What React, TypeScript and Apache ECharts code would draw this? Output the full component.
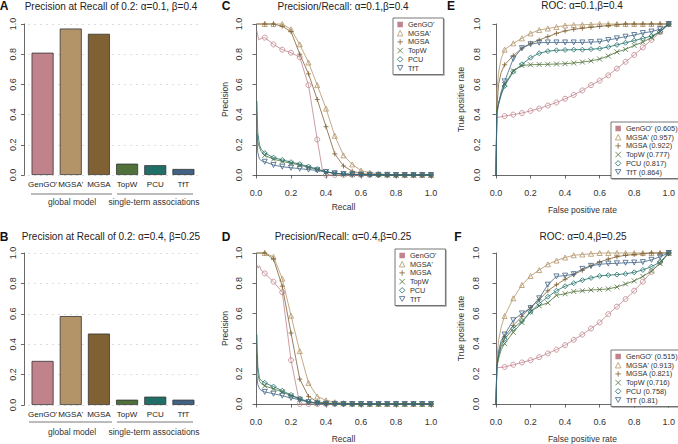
import React, { useEffect, useRef } from "react";
import * as echarts from "echarts";

const FONT = '"Liberation Sans", Arial, Helvetica, sans-serif';

const METHODS = ["GenGO'", "MGSA'", "MGSA", "TopW", "PCU", "TfT"];
const COLORS = ["#c0838c", "#b39468", "#7f6133", "#50713a", "#1f6f68", "#406385"];
const AUC_E = ["0.605", "0.957", "0.922", "0.777", "0.817", "0.864"];
const AUC_F = ["0.515", "0.913", "0.821", "0.716", "0.758", "0.81"];

const BAR_A = [0.81, 0.97, 0.935, 0.075, 0.065, 0.04];
const BAR_B = [0.29, 0.585, 0.47, 0.035, 0.055, 0.035];

const TITLE_A = "Precision at Recall of 0.2: \u03b1=0.1, \u03b2=0.4";
const TITLE_B = "Precision at Recall of 0.2: \u03b1=0.4, \u03b2=0.25";
const TITLE_C = "Precision/Recall: \u03b1=0.1,\u03b2=0.4";
const TITLE_D = "Precision/Recall: \u03b1=0.4,\u03b2=0.25";
const TITLE_E = "ROC: \u03b1=0.1,\u03b2=0.4";
const TITLE_F = "ROC: \u03b1=0.4,\u03b2=0.25";

// x positions where markers are drawn (recall / false positive rate)
const MARK_X = [0.05, 0.1, 0.15, 0.2, 0.25, 0.3, 0.35, 0.4, 0.45, 0.5, 0.55, 0.6, 0.65, 0.7, 0.75, 0.8, 0.85, 0.9, 0.95, 1.0];

// ---- Panel C: precision/recall, alpha=0.1 beta=0.4
const C_GENGO_EXTRA = [[0.005, 0.955], [0.015, 0.895], [0.03, 0.905], [0.38, 0.03]];
const C_GENGO = [0.91, 0.865, 0.83, 0.81, 0.78, 0.595, 0.235, 0.0, 0.0, 0, 0, 0, 0, 0, 0, 0, 0, 0, 0, 0];
const C_MGSAP_EXTRA = [[0.005, 1.0]];
const C_MGSAP = [1.0, 1.0, 1.0, 0.965, 0.865, 0.745, 0.595, 0.44, 0.26, 0.13, 0.07, 0.03, 0.015, 0.008, 0.004, 0.002, 0.001, 0, 0, 0];
const C_MGSA_EXTRA = [[0.005, 1.0]];
const C_MGSA = [1.0, 1.0, 0.985, 0.95, 0.8, 0.67, 0.5, 0.32, 0.14, 0.06, 0.025, 0.01, 0.005, 0.003, 0.002, 0.001, 0, 0, 0, 0];
const C_TOPW_EXTRA = [[0.005, 0.29], [0.01, 0.22], [0.02, 0.18], [0.03, 0.155]];
const C_TOPW = [0.13, 0.105, 0.09, 0.078, 0.066, 0.05, 0.036, 0.02, 0.01, 0.006, 0.004, 0.003, 0.002, 0.001, 0.001, 0, 0, 0, 0, 0];
const C_PCU_EXTRA = [[0.005, 0.49], [0.01, 0.28], [0.02, 0.2], [0.03, 0.17]];
const C_PCU = [0.145, 0.115, 0.1, 0.085, 0.072, 0.056, 0.04, 0.022, 0.012, 0.007, 0.005, 0.003, 0.002, 0.001, 0.001, 0, 0, 0, 0, 0];
const C_TFT_EXTRA = [[0.005, 0.27], [0.01, 0.15], [0.02, 0.105], [0.03, 0.095]];
const C_TFT = [0.088, 0.066, 0.055, 0.048, 0.042, 0.036, 0.03, 0.02, 0.012, 0.007, 0.004, 0.003, 0.002, 0.001, 0.001, 0, 0, 0, 0, 0];

// ---- Panel D: precision/recall, alpha=0.4 beta=0.25
const D_GENGO_EXTRA = [[0.005, 0.92], [0.012, 0.9], [0.02, 0.915], [0.03, 0.885]];
const D_GENGO = [0.865, 0.81, 0.74, 0.29, 0.0, 0, 0, 0, 0, 0, 0, 0, 0, 0, 0, 0, 0, 0, 0, 0];
const D_MGSAP_EXTRA = [[0.005, 1.0]];
const D_MGSAP = [1.0, 0.975, 0.83, 0.585, 0.35, 0.14, 0.05, 0.025, 0.012, 0.006, 0.003, 0.002, 0.001, 0, 0, 0, 0, 0, 0, 0];
const D_MGSA_EXTRA = [[0.005, 1.0]];
const D_MGSA = [1.0, 0.96, 0.78, 0.47, 0.165, 0.05, 0.015, 0.007, 0.004, 0.002, 0.001, 0, 0, 0, 0, 0, 0, 0, 0, 0];
const D_TOPW_EXTRA = [[0.005, 0.33], [0.01, 0.2], [0.02, 0.15], [0.03, 0.135]];
const D_TOPW = [0.12, 0.1, 0.08, 0.055, 0.032, 0.014, 0.006, 0.003, 0.002, 0.001, 0, 0, 0, 0, 0, 0, 0, 0, 0, 0];
const D_PCU_EXTRA = [[0.005, 0.46], [0.01, 0.25], [0.02, 0.17], [0.03, 0.155]];
const D_PCU = [0.14, 0.115, 0.088, 0.06, 0.035, 0.015, 0.007, 0.004, 0.002, 0.001, 0, 0, 0, 0, 0, 0, 0, 0, 0, 0];
const D_TFT_EXTRA = [[0.005, 0.19], [0.01, 0.13], [0.02, 0.1], [0.03, 0.09]];
const D_TFT = [0.08, 0.068, 0.055, 0.04, 0.028, 0.012, 0.005, 0.002, 0.001, 0, 0, 0, 0, 0, 0, 0, 0, 0, 0, 0];

// ---- Panel E: ROC, alpha=0.1 beta=0.4
const E_GENGO_EXTRA = [[0, 0], [0.004, 0.38]];
const E_GENGO = [0.39, 0.4, 0.41, 0.425, 0.44, 0.46, 0.48, 0.505, 0.53, 0.56, 0.595, 0.625, 0.66, 0.705, 0.75, 0.795, 0.845, 0.895, 0.945, 1.0];
const E_MGSAP_EXTRA = [[0, 0], [0.005, 0.55], [0.015, 0.68], [0.03, 0.77]];
const E_MGSAP = [0.83, 0.872, 0.905, 0.938, 0.96, 0.97, 0.98, 0.99, 0.993, 0.995, 0.997, 1, 1, 1, 1, 1, 1, 1, 1, 1];
const E_MGSA_EXTRA = [[0, 0], [0.005, 0.45], [0.015, 0.6], [0.03, 0.68]];
const E_MGSA = [0.73, 0.79, 0.84, 0.872, 0.894, 0.916, 0.938, 0.954, 0.965, 0.972, 0.978, 0.984, 0.99, 0.995, 1, 1, 1, 1, 1, 1];
const E_TOPW_EXTRA = [[0, 0], [0.005, 0.43], [0.015, 0.48], [0.03, 0.54]];
const E_TOPW = [0.6, 0.69, 0.725, 0.73, 0.732, 0.733, 0.735, 0.737, 0.742, 0.748, 0.756, 0.768, 0.788, 0.815, 0.832, 0.858, 0.88, 0.91, 0.95, 1.0];
const E_PCU_EXTRA = [[0, 0], [0.005, 0.42], [0.015, 0.47], [0.03, 0.53]];
const E_PCU = [0.59, 0.684, 0.733, 0.777, 0.806, 0.82, 0.826, 0.828, 0.83, 0.83, 0.833, 0.837, 0.848, 0.862, 0.876, 0.89, 0.905, 0.92, 0.95, 1.0];
const E_TFT_EXTRA = [[0, 0], [0.005, 0.4], [0.015, 0.47], [0.03, 0.55]];
const E_TFT = [0.62, 0.77, 0.84, 0.866, 0.876, 0.878, 0.878, 0.878, 0.878, 0.878, 0.88, 0.883, 0.894, 0.905, 0.916, 0.927, 0.94, 0.95, 0.965, 1.0];

// ---- Panel F: ROC, alpha=0.4 beta=0.25
const F_GENGO_EXTRA = [[0, 0], [0.004, 0.24]];
const F_GENGO = [0.245, 0.26, 0.275, 0.29, 0.31, 0.335, 0.36, 0.39, 0.425, 0.46, 0.5, 0.54, 0.595, 0.645, 0.695, 0.75, 0.81, 0.875, 0.94, 1.0];
const F_MGSAP_EXTRA = [[0, 0], [0.005, 0.3], [0.015, 0.42], [0.03, 0.51]];
const F_MGSAP = [0.583, 0.7, 0.788, 0.848, 0.887, 0.925, 0.95, 0.97, 0.985, 0.99, 0.995, 1, 1, 1, 1, 1, 1, 1, 1, 1];
const F_MGSA_EXTRA = [[0, 0], [0.005, 0.25], [0.015, 0.33], [0.03, 0.4]];
const F_MGSA = [0.445, 0.52, 0.58, 0.64, 0.69, 0.75, 0.79, 0.826, 0.857, 0.885, 0.915, 0.94, 0.96, 0.975, 0.985, 0.99, 0.995, 1, 1, 1];
const F_TOPW_EXTRA = [[0, 0], [0.005, 0.24], [0.015, 0.3], [0.03, 0.36]];
const F_TOPW = [0.4, 0.475, 0.54, 0.61, 0.65, 0.67, 0.72, 0.73, 0.745, 0.75, 0.755, 0.758, 0.762, 0.775, 0.795, 0.815, 0.845, 0.88, 0.93, 1.0];
const F_PCU_EXTRA = [[0, 0], [0.005, 0.25], [0.015, 0.32], [0.03, 0.38]];
const F_PCU = [0.43, 0.5, 0.55, 0.61, 0.665, 0.71, 0.75, 0.78, 0.8, 0.82, 0.835, 0.848, 0.853, 0.857, 0.862, 0.872, 0.888, 0.91, 0.94, 1.0];
const F_TFT_EXTRA = [[0, 0], [0.005, 0.26], [0.015, 0.35], [0.03, 0.42]];
const F_TFT = [0.46, 0.555, 0.6, 0.635, 0.7, 0.79, 0.845, 0.85, 0.86, 0.895, 0.915, 0.925, 0.93, 0.932, 0.935, 0.937, 0.94, 0.955, 0.975, 1.0];

const PANEL_C = [[C_GENGO_EXTRA, C_GENGO], [C_MGSAP_EXTRA, C_MGSAP], [C_MGSA_EXTRA, C_MGSA], [C_TOPW_EXTRA, C_TOPW], [C_PCU_EXTRA, C_PCU], [C_TFT_EXTRA, C_TFT]];
const PANEL_D = [[D_GENGO_EXTRA, D_GENGO], [D_MGSAP_EXTRA, D_MGSAP], [D_MGSA_EXTRA, D_MGSA], [D_TOPW_EXTRA, D_TOPW], [D_PCU_EXTRA, D_PCU], [D_TFT_EXTRA, D_TFT]];
const PANEL_E = [[E_GENGO_EXTRA, E_GENGO], [E_MGSAP_EXTRA, E_MGSAP], [E_MGSA_EXTRA, E_MGSA], [E_TOPW_EXTRA, E_TOPW], [E_PCU_EXTRA, E_PCU], [E_TFT_EXTRA, E_TFT]];
const PANEL_F = [[F_GENGO_EXTRA, F_GENGO], [F_MGSAP_EXTRA, F_MGSAP], [F_MGSA_EXTRA, F_MGSA], [F_TOPW_EXTRA, F_TOPW], [F_PCU_EXTRA, F_PCU], [F_TFT_EXTRA, F_TFT]];

const PLUS = "path://M5,0L5,10M0,5L10,5";
const CROSS = "path://M0,0L10,10M10,0L0,10";
const DOWNTRI = "path://M0,0L10,0L5,8.66Z";
const SYMBOLS = ["circle", "triangle", PLUS, CROSS, "diamond", DOWNTRI];
const LEGEND_ICONS = ["rect", "triangle", PLUS, CROSS, "diamond", DOWNTRI];

function buildData(extra: number[][], marks: number[]) {
  const pts: any[] = [];
  extra.forEach((p) => pts.push({ value: [p[0], p[1]], symbol: "none" }));
  marks.forEach((y, i) => pts.push({ value: [MARK_X[i], y] }));
  pts.sort((a, b) => a.value[0] - b.value[0]);
  return pts;
}

function lineSeries(panel: any[], axisIndex: number, names: string[]) {
  return panel.map((pair, i) => ({
    type: "line",
    name: names[i],
    xAxisIndex: axisIndex,
    yAxisIndex: axisIndex,
    data: buildData(pair[0], pair[1]),
    symbol: SYMBOLS[i],
    symbolSize: 5,
    showSymbol: true,
    showAllSymbol: true,
    silent: true,
    clip: false,
    lineStyle: { color: COLORS[i], width: 0.8 },
    itemStyle: { color: "rgba(255,255,255,0)", borderColor: COLORS[i], borderWidth: 0.8 },
    emphasis: { disabled: true },
    z: 2 + i,
  }));
}

function valueAxis(gridIndex: number, offset: number, margin: number, isY: boolean, name: string, nameGap: number) {
  return {
    type: "value",
    gridIndex,
    min: 0,
    max: 1,
    interval: 0.2,
    offset,
    name,
    nameLocation: "middle",
    nameGap,
    nameTextStyle: { fontSize: 8.5, color: "#333", fontFamily: FONT },
    axisLine: { show: true, lineStyle: { color: "#444", width: 0.8 } },
    axisTick: { show: true, length: 3.5, lineStyle: { color: "#444", width: 0.8 } },
    axisLabel: {
      fontSize: 9,
      color: "#333",
      fontFamily: FONT,
      margin,
      rotate: isY ? 90 : 0,
      formatter: (v: number) => v.toFixed(1),
    },
    splitLine: { show: false },
  };
}

function barYAxis(gridIndex: number) {
  return {
    type: "value",
    gridIndex,
    min: 0,
    max: 1,
    interval: 0.2,
    offset: 4,
    axisLine: { show: true, lineStyle: { color: "#444", width: 0.8 } },
    axisTick: { show: true, length: 3.5, lineStyle: { color: "#444", width: 0.8 } },
    axisLabel: { fontSize: 9, color: "#333", fontFamily: FONT, margin: 7, rotate: 90, formatter: (v: number) => v.toFixed(1) },
    splitLine: { show: true, lineStyle: { color: "#bbb", width: 1, type: [1, 5] } },
  };
}

function barXAxis(gridIndex: number, margin: number) {
  return {
    type: "category",
    gridIndex,
    data: METHODS,
    axisLine: { show: false },
    axisTick: { show: false },
    axisLabel: { fontSize: 8, color: "#222", fontFamily: FONT, margin, interval: 0 },
  };
}

function legendFor(names: string[], left: number, top: number) {
  return {
    show: true,
    orient: "vertical",
    left,
    top,
    padding: [3, 9, 3, 4],
    itemGap: 1.7,
    itemWidth: 5.5,
    itemHeight: 5.5,
    backgroundColor: "#fff",
    borderColor: "#555",
    borderWidth: 0.8,
    borderRadius: 0,
    shadowColor: "rgba(0,0,0,0.3)",
    shadowOffsetX: 1,
    shadowOffsetY: 1,
    shadowBlur: 0,
    selectedMode: false,
    textStyle: { fontSize: 7.3, color: "#333", fontFamily: FONT, lineHeight: 7 },
    data: names.map((n, i) => ({
      name: n,
      icon: LEGEND_ICONS[i],
      itemStyle: {
        color: i === 0 ? COLORS[i] : "rgba(255,255,255,0)",
        borderColor: COLORS[i],
        borderWidth: i === 0 ? 0 : 0.8,
      },
    })),
  };
}

function titleAt(text: string, cx: number, top: number) {
  return {
    text,
    left: cx,
    top,
    textAlign: "center",
    padding: 0,
    textStyle: { fontSize: 10, fontWeight: "normal", color: "#222", fontFamily: FONT },
  };
}

function letter(t: string, x: number, y: number) {
  return {
    type: "text",
    x,
    y,
    style: { text: t, font: `bold 12px ${FONT}`, fill: "#111", align: "center", verticalAlign: "middle" },
  };
}

function groupLabel(t: string, x: number, y: number) {
  return {
    type: "text",
    x,
    y,
    style: { text: t, font: `8.5px ${FONT}`, fill: "#333", align: "center", verticalAlign: "middle" },
  };
}

function groupLine(x1: number, x2: number, y: number) {
  return { type: "line", shape: { x1, y1: y, x2, y2: y }, style: { stroke: "#555", lineWidth: 0.8 } };
}

export default function App() {
  const ref = useRef<HTMLDivElement>(null);
  useEffect(() => {
    document.body.style.margin = "0";
    const chart = echarts.init(ref.current!, null, { renderer: "svg" });
    const namesE = METHODS.map((m, i) => `${m} (${AUC_E[i]})`);
    const namesF = METHODS.map((m, i) => `${m} (${AUC_F[i]})`);
    const barSeries = (vals: number[], idx: number) => ({
      type: "bar",
      xAxisIndex: idx,
      yAxisIndex: idx,
      barWidth: 22,
      silent: true,
      data: vals.map((v, i) => ({ value: v, itemStyle: { color: COLORS[i] } })),
      itemStyle: { borderColor: "#333", borderWidth: 0.8 },
    });
    const option: any = {
      animation: false,
      backgroundColor: "#fff",
      textStyle: { fontFamily: FONT },
      title: [
        titleAt(TITLE_A, 111, 1.5),
        titleAt(TITLE_B, 111, 231.5),
        titleAt(TITLE_C, 343, 1.5),
        titleAt(TITLE_D, 343, 231.5),
        titleAt(TITLE_E, 582, 0.5),
        titleAt(TITLE_F, 583, 231.5),
      ],
      grid: [
        { left: 28.5, top: 24, width: 169, height: 151 },
        { left: 28.5, top: 253, width: 169, height: 152 },
        { left: 256, top: 24, width: 175, height: 151 },
        { left: 256, top: 253, width: 175, height: 151 },
        { left: 496, top: 24, width: 175, height: 151 },
        { left: 496, top: 253, width: 175, height: 151 },
      ],
      xAxis: [
        barXAxis(0, 5.5),
        barXAxis(1, 5),
        valueAxis(2, 6, 7, false, "Recall", 21),
        valueAxis(3, 6, 7, false, "Recall", 24),
        valueAxis(4, 7, 6.5, false, "False positive rate", 23),
        valueAxis(5, 6, 7.5, false, "False positive rate", 24),
      ],
      yAxis: [
        barYAxis(0),
        barYAxis(1),
        valueAxis(2, 6, 6.5, true, "Precision", 21),
        valueAxis(3, 6, 6.5, true, "Precision", 21),
        valueAxis(4, 8, 6.5, true, "True positive rate", 23),
        valueAxis(5, 9, 6.5, true, "True positive rate", 22),
      ],
      legend: [
        legendFor(METHODS, 393, 18),
        legendFor(METHODS, 395, 249),
        legendFor(namesE, 611, 122),
        legendFor(namesF, 611, 350),
      ],
      graphic: [
        letter("A", 4, 6),
        letter("B", 4, 237),
        letter("C", 226, 6),
        letter("D", 226, 237),
        letter("E", 451, 6),
        letter("F", 458, 237),
        groupLine(31, 112, 194),
        groupLine(117, 193, 194),
        groupLabel("global model", 72, 201.5),
        groupLabel("single-term associations", 154, 201.5),
        groupLine(29, 112, 422),
        groupLine(117, 193, 422),
        groupLabel("global model", 72, 432),
        groupLabel("single-term associations", 154, 432),
      ],
      series: [
        barSeries(BAR_A, 0),
        barSeries(BAR_B, 1),
        ...lineSeries(PANEL_C, 2, METHODS),
        ...lineSeries(PANEL_D, 3, METHODS),
        ...lineSeries(PANEL_E, 4, namesE),
        ...lineSeries(PANEL_F, 5, namesF),
      ],
    };
    chart.setOption(option);
    return () => chart.dispose();
  }, []);
  return <div ref={ref} style={{ width: 678, height: 444 }} />;
}
